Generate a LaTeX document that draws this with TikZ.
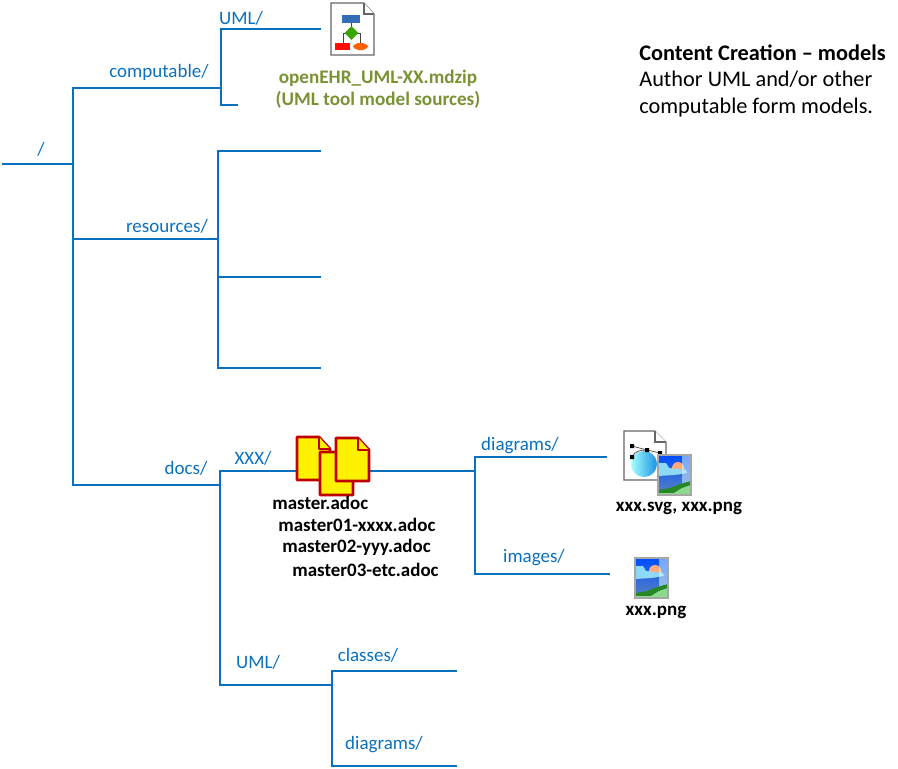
\documentclass[tikz,border=0pt]{standalone}
\usepackage{fontspec}
\setmainfont{Carlito}
\usepackage{xcolor}
\usetikzlibrary{positioning,shapes.geometric}
\definecolor{treeblue}{RGB}{10,112,192}
\definecolor{olivetext}{RGB}{122,146,52}
\definecolor{steelband}{RGB}{92,132,190}
\tikzset{
  treeline/.style={draw=treeblue, line width=1pt},
  dirlabel/.style={font=\fontsize{10.8}{13}\selectfont, text=treeblue, inner sep=0pt},
  filelabel/.style={font=\fontsize{10.8}{13}\selectfont\bfseries, text=black, inner sep=0pt},
  modellabel/.style={font=\fontsize{10.9}{12.6}\selectfont\bfseries, text=olivetext, inner sep=0pt, align=center},
  docpage/.style={draw=red!75!black, line width=1.6pt, fill=yellow, line join=round},
  filepage/.style={draw=gray!80!black, line width=0.6pt, fill=white},
}
% picture icon, (#1) is its top left corner
\newcommand{\pngicon}[1]{
  \begin{scope}[shift={#1}]
    \shade[top color=blue!70!cyan, bottom color=steelband] (0,0) rectangle (33,40);
    \fill[orange!35!pink] (20,13) circle[radius=6];
    \draw[yellow!80!orange, line width=0.5pt] (14,13) arc[start angle=180, end angle=0, radius=6];
    \fill[cyan!45!white] (0,8) -- (8,8) -- (11,13) -- (28,15) -- (29,18) -- (16,20) -- (0,21) -- cycle;
    \fill[cyan!15!white, opacity=0.55] (24,0) rectangle (33,40);
    \fill[green!45!black!85] (0,35) -- (12,33) -- (22,29) -- (33,26) -- (33,38) -- (0,38) -- cycle;
    \fill[green!35!white!85!black] (16,38) -- (24,33) -- (33,30) -- (33,40) -- (0,40) -- (0,38) -- cycle;
    \draw[gray!70, line width=0.7pt] (0,0) rectangle (33,40);
  \end{scope}
}
% yellow document icon
\newcommand{\adocicon}[1]{
  \begin{scope}[shift={#1}]
    \draw[docpage] (0,0) -- (22,0) -- (33,12) -- (33,43) -- (0,43) -- cycle;
    \draw[docpage] (22,0) -- (22,12) -- (33,12);
  \end{scope}
}
\begin{document}
\begin{tikzpicture}[x=0.02cm, y=-0.02cm]
    \useasboundingbox (0,0) rectangle (898,768);
    % Tree points
    \coordinate (rootIn) at (2,164);
    \coordinate (rootFork) at (73,164);
    \coordinate (compFork) at (221,88);
    \coordinate (umlTop) at (321,29);
    \coordinate (umlLow) at (238,105);
    \coordinate (resFork) at (218,239);
    \coordinate (resA) at (321,151);
    \coordinate (resB) at (321,277);
    \coordinate (resC) at (321,368);
    \coordinate (docsFork) at (220,485);
    \coordinate (xxxFork) at (475,471);
    \coordinate (diagEnd) at (607,457);
    \coordinate (imgEnd) at (610,574);
    \coordinate (docUml) at (332,685);
    \coordinate (classEnd) at (457,671);
    \coordinate (umlDiagEnd) at (457,766);
    % Tree lines
    \draw[treeline] (rootIn) -- (rootFork);
    \draw[treeline] (rootFork) |- (compFork);
    \draw[treeline] (rootFork) |- (resFork);
    \draw[treeline] (rootFork) |- (docsFork);
    \draw[treeline] (compFork) |- (umlTop);
    \draw[treeline] (compFork) |- (umlLow);
    \draw[treeline] (resFork) |- (resA);
    \draw[treeline] (resFork) |- (resB);
    \draw[treeline] (resFork) |- (resC);
    \draw[treeline] (docsFork) |- (xxxFork);
    \draw[treeline] (docsFork) |- (docUml);
    \draw[treeline] (xxxFork) |- (diagEnd);
    \draw[treeline] (xxxFork) |- (imgEnd);
    \draw[treeline] (docUml) |- (classEnd);
    \draw[treeline] (docUml) |- (umlDiagEnd);
    % Directory labels
    \node[dirlabel] (rootLabel) at (41,149) {/};
    \node[dirlabel] (compLabel) at (159,72) {computable/};
    \node[dirlabel] (umlLabel) at (241,18) {UML/};
    \node[dirlabel] (resLabel) at (167,226) {resources/};
    \node[dirlabel] (docsLabel) at (186,468) {docs/};
    \node[dirlabel] (xxxLabel) at (253,458) {XXX/};
    \node[dirlabel] (diagLabel) at (520,446) {diagrams/};
    \node[dirlabel] (imgLabel) at (534,558) {images/};
    \node[dirlabel] (docUmlLabel) at (258,662) {UML/};
    \node[dirlabel] (classLabel) at (368,655) {classes/};
    \node[dirlabel] (umlDiagLabel) at (384,745) {diagrams/};
    % Model file icon
    \draw[filepage] (331,3) -- (364,3) -- (374,14) -- (374,55) -- (331,55) -- cycle;
    \draw[filepage] (364,3) -- (364,14) -- (374,14);
    \draw[black!75, line width=0.4pt] (351,23) -- (351,28) (346,33) -- (343,33) -- (343,44) (357,33) -- (360,33) -- (360,44);
    \fill[cyan!45!blue!85!gray] (342,15) rectangle (360,23);
    \node[diamond, fill=green!50!black!70!lime, minimum size=8pt, inner sep=0pt] (modelGate) at (351.5,33) {};
    \fill[red!90!orange] (335,43) rectangle (350,50);
    \fill[orange!75!red, rounded corners=3pt] (353,43) rectangle (368,50);
    \node[modellabel] (modelFile) at (378,89.5) {openEHR\_UML-XX.mdzip\\(UML tool model sources)};
    % Title text
    \node[anchor=north west, inner sep=0pt, align=left, font=\fontsize{12.7}{15.3}\selectfont] (titleText) at (639,44)
        {\textbf{Content Creation – models}\\Author UML and/or other\\computable form models.};
    % Source documents
    \adocicon{(297,437)}
    \adocicon{(320,452)}
    \adocicon{(336,438)}
    \node[filelabel, anchor=west] (masterA) at (272,503) {master.adoc};
    \node[filelabel, anchor=west] (masterB) at (278,525) {master01-xxxx.adoc};
    \node[filelabel, anchor=west] (masterC) at (282,547) {master02-yyy.adoc};
    \node[filelabel, anchor=west] (masterD) at (292,570) {master03-etc.adoc};
    % Diagram icons
    \draw[filepage] (624,431) -- (655,431) -- (666,442) -- (666,480) -- (624,480) -- cycle;
    \draw[filepage] (655,431) -- (655,442) -- (666,442);
    \shade[left color=cyan!35!white, right color=blue!40!cyan!80!gray] (644,464) circle[radius=13];
    \draw[black!70, line width=0.4pt] (632,446) -- (647,450) -- (660,453);
    \draw[black!70, line width=0.4pt] (632,457) .. controls (635,451) and (640,450) .. (647,450);
    \fill[black] (630,455) rectangle (634,459) (645,448) rectangle (649,452) (658,451) rectangle (662,455) (630,444) rectangle (634,448);
    \pngicon{(658,455)}
    \node[filelabel] (svgFile) at (679,508) {xxx.svg, xxx.png};
    \pngicon{(635,558)}
    \node[filelabel] (pngFile) at (656,612) {xxx.png};
\end{tikzpicture}
\end{document}
